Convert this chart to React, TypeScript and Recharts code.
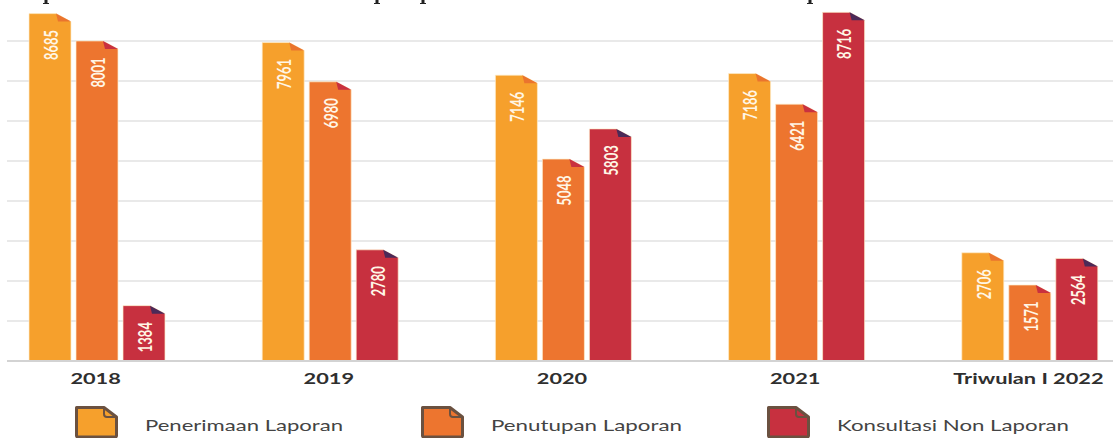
import React from 'react';
import { BarChart, Bar, CartesianGrid, XAxis, YAxis, Legend, LabelList } from 'recharts';

const categories = ['2018', '2019', '2020', '2021', 'Triwulan I 2022'];
const penerimaan = [8685, 7961, 7146, 7186, 2706];
// the 2022 bar is drawn taller in the picture than its printed 1571
const penutupan = [8001, 6980, 5048, 6421, 1900];
const penutupanPrinted = [8001, 6980, 5048, 6421, 1571];
const konsultasi = [1384, 2780, 5803, 8716, 2564];
const gridValues = [0, 1000, 2000, 3000, 4000, 5000, 6000, 7000, 8000];

const data = categories.map((name, i) => ({
  name,
  penerimaan: penerimaan[i],
  penutupan: penutupan[i],
  penutupanPrinted: penutupanPrinted[i],
  konsultasi: konsultasi[i],
}));

const folds: Record<string, string> = {
  '#f6a02c': '#ea742e',
  '#ed752f': '#c9313f',
  '#c7303f': '#4b2a58',
};

const FoldedBar = (props: any) => {
  const { x, y, width, height, fill } = props;
  const fold = folds[fill];
  return (
    <g>
      <path
        d={`M${x},${y + height}V${y}H${x + width - 15}L${x + width},${y + 8}V${y + height}Z`}
        fill={fill}
        stroke="#fdeccb"
        strokeWidth={1}
        strokeOpacity={0.7}
      />
      <path d={`M${x + width - 15},${y}L${x + width},${y + 8}H${x + width - 13}Z`} fill={fold} />
    </g>
  );
};

const ValueLabel = (props: any) => {
  const { x, y, width, value } = props;
  return (
    <text
      transform={`translate(${x + width / 2 + 1},${y + 31.5}) rotate(-90) scale(0.72,1)`}
      textAnchor="middle"
      dominantBaseline="central"
      fill="#fff6e6"
      fontFamily="Lato"
      fontWeight={700}
      fontSize={18}
    >
      {value}
    </text>
  );
};

const CategoryTick = (props: any) => {
  const { x, y, payload } = props;
  return (
    <text
      transform={`translate(${x - 1},${y}) scale(1.5,1)`}
      textAnchor="middle"
      dominantBaseline="hanging"
      fill="#2f2f2f"
      fontFamily="Lato"
      fontWeight={700}
      fontSize={14.5}
    >
      {payload.value}
    </text>
  );
};

const FileIcon = ({ x, color }: { x: number; color: string }) => (
  <g transform={`translate(${x},406)`}>
    <path d="M1.5,1.5H29L41.5,11V29.5Q41.5,31 40,31H3Q1.5,31 1.5,29.5Z" fill={color} stroke="#6b5140" strokeWidth={3} strokeLinejoin="round" />
    <path d="M29,1.5V8Q29,11 32,11H41.5" fill="none" stroke="#6b5140" strokeWidth={2} />
  </g>
);

const legendPlaces = [
  { icon: 75, text: 145, width: 198 },
  { icon: 421, text: 491, width: 191 },
  { icon: 767, text: 837, width: 232 },
];

const titleStubs = [46, 377, 423, 810];

const LegendRow = (props: any) => (
  <div style={{ position: 'relative', height: 0 }}>
    <svg width={1113} height={438} style={{ position: 'absolute', left: 0, top: 0 }}>
      {titleStubs.map((x) => (
        <path key={x} d={`M${x - 1.5},0h3v3h1.5v1h-6v-1h1.5Z`} fill="#222" />
      ))}
      {props.payload.map((item: any, i: number) => (
        <g key={item.value}>
          <FileIcon x={legendPlaces[i].icon} color={item.color} />
          <text
            x={legendPlaces[i].text}
            y={431}
            fill="#444"
            fontFamily="Lato"
            fontSize={15}
            textLength={legendPlaces[i].width}
            lengthAdjust="spacingAndGlyphs"
          >
            {item.value}
          </text>
        </g>
      ))}
    </svg>
  </div>
);

export default function App() {
  return (
    <div style={{ position: 'absolute', left: 0, top: 0, width: 1113, height: 438, background: '#fff', overflow: 'hidden' }}>
      <BarChart
        width={1113}
        height={438}
        data={data}
        margin={{ top: 1, right: 0, bottom: 0, left: 7 }}
        barSize={42}
        barGap={5}
      >
        <CartesianGrid vertical={false} stroke="#e2e2e2" strokeWidth={1.5} horizontalValues={gridValues} />
        <XAxis
          dataKey="name"
          axisLine={{ stroke: '#d3d3d3', strokeWidth: 2 }}
          tickLine={false}
          tick={<CategoryTick />}
          interval={0}
          height={77}
          tickMargin={6}
          padding={{ left: -27, right: -33 }}
        />
        <YAxis hide domain={[0, 9000]} ticks={gridValues} />
        <Legend content={<LegendRow />} itemSorter={null} wrapperStyle={{ left: 0, top: 0, bottom: 'auto', width: 1113, height: 0 }} />
        <Bar dataKey="penerimaan" name="Penerimaan Laporan" fill="#f6a02c" shape={<FoldedBar />} isAnimationActive={false}>
          <LabelList dataKey="penerimaan" content={<ValueLabel />} />
        </Bar>
        <Bar dataKey="penutupan" name="Penutupan Laporan" fill="#ed752f" shape={<FoldedBar />} isAnimationActive={false}>
          <LabelList dataKey="penutupanPrinted" content={<ValueLabel />} />
        </Bar>
        <Bar dataKey="konsultasi" name="Konsultasi Non Laporan" fill="#c7303f" shape={<FoldedBar />} isAnimationActive={false}>
          <LabelList dataKey="konsultasi" content={<ValueLabel />} />
        </Bar>
      </BarChart>
    </div>
  );
}
